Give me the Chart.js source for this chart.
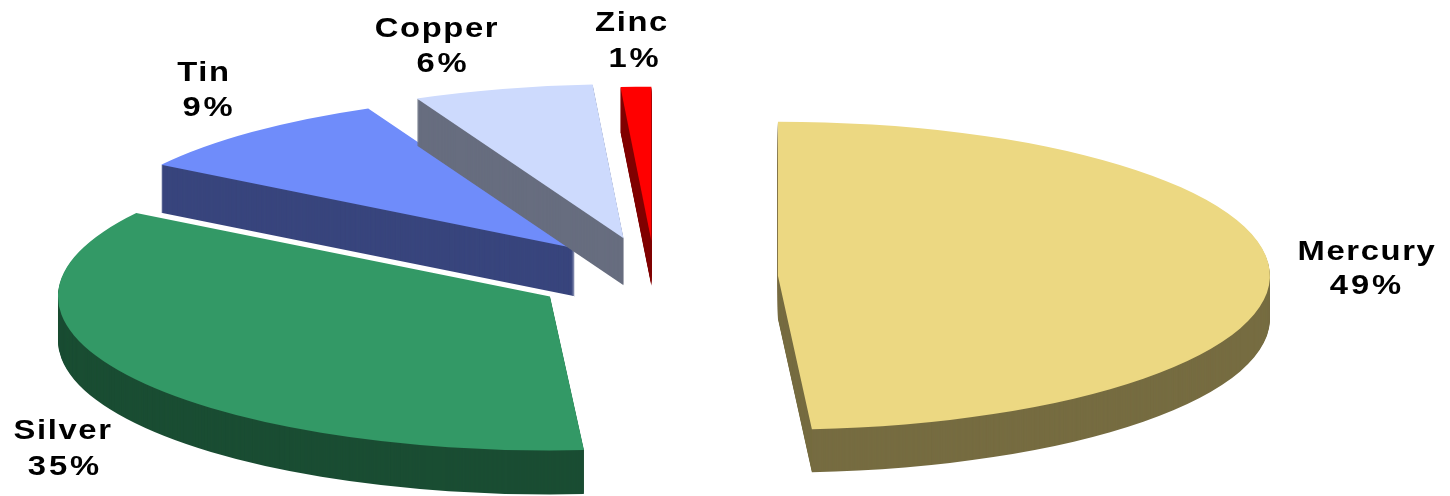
<!DOCTYPE html>
<html><head><meta charset="utf-8">
<style>html,body{margin:0;padding:0;background:#fff;overflow:hidden}#wrap{width:1450px;height:496px}</style>
<script src="https://cdn.jsdelivr.net/npm/chart.js@4"></script>
</head><body><div id="wrap"><canvas id="c" width="1450" height="496"></canvas></div>
<script>
const categories = ['Mercury','Silver','Tin','Copper','Zinc'];
const shares = [48.9,35.2,9.0,5.9,1.0];
const topColors = ['#ECD882','#339966','#6F8CFA','#CDDAFD','#FF0000'];
const sideColors = ['#766C41','#1A4D33','#38457D','#676D7F','#800000'];
const explodeDistance = [123,122,122,128,116];
const depthPx = [43,44,48,47,45];
const nameAnchors = [[1367,252],[63,431],[204,73],[437,29],[632,23]];
const pctAnchors = [[1367,286],[65,467],[209,108],[443,64],[635,59]];
const pieRadius = 492, squash = 0.313, pieCenter = [655,277];

const pie3d = {
  id:'pie3d',
  beforeDatasetDraw(chart,args){
    const ctx = chart.ctx, arcs = args.meta.data;
    const paint = (arc,i,dy,colored) => {
      const mid = (arc.startAngle+arc.endAngle)/2;
      ctx.save();
      ctx.translate(pieCenter[0],pieCenter[1]+dy);
      ctx.scale(1,squash);
      ctx.translate(Math.cos(mid)*explodeDistance[i],Math.sin(mid)*explodeDistance[i]);
      ctx.translate(-arc.x,-arc.y);
      const saved = arc.options;
      if(colored) arc.options = Object.assign({},saved,{backgroundColor:colored,borderColor:colored});
      arc.draw(ctx);
      arc.options = saved;
      ctx.restore();
    };
    arcs.forEach((arc,i)=>{
      for(let d=depthPx[i];d>0;d--) paint(arc,i,d,sideColors[i]);
      paint(arc,i,0,null);
    });
    return false;
  },
  afterDatasetsDraw(chart){
    const ctx = chart.ctx;
    const put = (t,x,y,spacing) => {
      ctx.save();
      ctx.translate(x,y);
      ctx.scale(1.17,1);
      ctx.letterSpacing = spacing;
      ctx.fillText(t,0,0);
      ctx.restore();
    };
    ctx.save();
    ctx.fillStyle='#000';
    ctx.textAlign='center';ctx.textBaseline='middle';
    ctx.font='bold 28px "Liberation Sans"';
    categories.forEach((name,i)=>{
      put(name,nameAnchors[i][0],nameAnchors[i][1],'1.4px');
      put(Math.round(shares[i])+'%',pctAnchors[i][0],pctAnchors[i][1],'2.5px');
    });
    ctx.restore();
  }
};
new Chart(document.getElementById('c'),{
  type:'pie',
  data:{labels:categories,datasets:[{data:shares,backgroundColor:topColors,borderWidth:0,radius:pieRadius,clip:false}]},
  options:{responsive:false,animation:false,devicePixelRatio:1,
    layout:{padding:0},
    plugins:{legend:{display:false},tooltip:{enabled:false}}},
  plugins:[pie3d]
});
</script></body></html>
